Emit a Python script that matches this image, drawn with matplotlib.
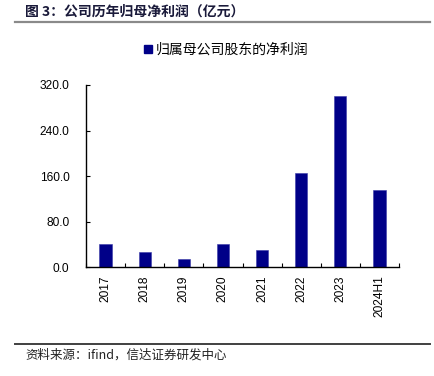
import numpy as np
import matplotlib.pyplot as plt
from matplotlib.lines import Line2D

plt.rcParams['font.family'] = ['Liberation Sans', 'Noto Sans CJK SC', 'DejaVu Sans']

years = ['2017', '2018', '2019', '2020', '2021', '2022', '2023', '2024H1']
profit = [40.5, 26.4, 15.0, 41.5, 29.5, 166.0, 300.7, 136.2]

bar_color = '#000088'
cjk = ['Noto Sans CJK SC', 'DejaVu Sans']

W, H = 435, 376
fig = plt.figure(figsize=(W / 100, H / 100), dpi=100)
ax = fig.add_axes([86 / W, 1 - 267.3 / H, (399 - 86) / W, (267.3 - 85) / H])

x = np.arange(len(years))
ax.bar(x, profit, width=0.31, color=bar_color, edgecolor='#3a3aa8', linewidth=0.4)

ax.set_xlim(-0.5, len(years) - 0.5)
ax.set_ylim(0, 320)
ax.set_yticks([0, 80, 160, 240, 320])
ax.set_yticklabels(['%.1f' % v for v in [0, 80, 160, 240, 320]], fontsize=8.6)
ax.set_xticks(x)
ax.set_xticklabels(years, rotation=90, fontsize=8.6)
ax.set_xticks(np.arange(-0.5, len(years)), minor=True)

for s in ['top', 'right']:
    ax.spines[s].set_visible(False)
for s in ['left', 'bottom']:
    ax.spines[s].set_linewidth(1.0)

ax.tick_params(axis='y', direction='in', length=3, width=0.8, pad=12)
ax.tick_params(axis='x', which='major', length=0, pad=6)
ax.tick_params(axis='x', which='minor', direction='in', length=3, width=0.8)

handle = Line2D([], [], marker='s', linestyle='', color=bar_color, markersize=5.5)
ax.legend([handle], ['归属母公司股东的净利润'], loc='center',
          bbox_to_anchor=(226 / W, 1 - 50 / H), bbox_transform=fig.transFigure,
          frameon=False, prop={'family': cjk, 'size': 10}, handlelength=0.6,
          handletextpad=0.3)

# title and source
fig.text(25 / W, 1 - 12 / H, '图 3：公司历年归母净利润（亿元）', family=cjk, fontsize=10,
         fontweight='bold', color='#1a1a3a', va='center', ha='left')
fig.add_artist(Line2D([15 / W, 430 / W], [1 - 21.5 / H] * 2, color='#8a8a8a', lw=1.6,
                      transform=fig.transFigure))
fig.add_artist(Line2D([15 / W, 430 / W], [1 - 344 / H] * 2, color='#404040', lw=1.4,
                      transform=fig.transFigure))
fig.text(25 / W, 1 - 355 / H, '资料来源：ifind，信达证券研发中心', family=cjk, fontsize=9,
         style='italic', color='#222222', va='center', ha='left')

fig.savefig('out.png', dpi=100)
